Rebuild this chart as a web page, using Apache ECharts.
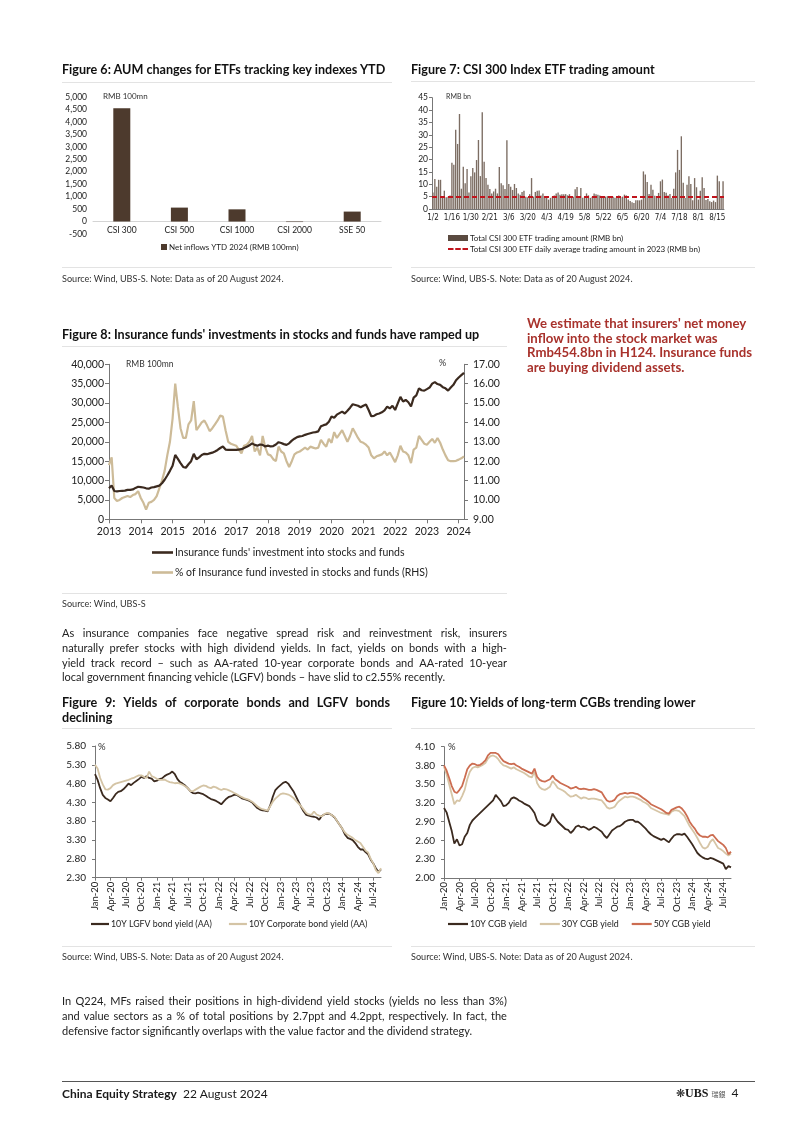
<!DOCTYPE html>
<html><head><meta charset="utf-8">
<script src="https://cdn.jsdelivr.net/npm/echarts@6/dist/echarts.min.js"></script>
<style>
html,body{margin:0;padding:0;background:#fff;}
#page{position:relative;width:802px;height:1134px;overflow:hidden;font-family:Lato,'Open Sans',sans-serif;color:#1a1a1a;}
#chart{position:absolute;left:0;top:0;width:802px;height:1134px;}
.t{position:absolute;white-space:nowrap;line-height:14px;}
.title{font-weight:bold;font-size:12.6px;color:#111;}
.hr{position:absolute;height:1px;background:#e3e3e3;}
.src{font-size:9.1px;color:#333;line-height:12px;}
.body{font-size:11px;color:#222;line-height:14px;}
.red{font-weight:bold;font-size:13.2px;color:#a8322c;line-height:14.6px;}
.j{display:flex;justify-content:space-between;}
</style></head>
<body>
<div id="page">
<div id="chart"></div>

<div class="t title" style="left:62px;top:63px;">Figure 6: AUM changes for ETFs tracking key indexes YTD</div>
<div class="t title" style="left:411px;top:63px;">Figure 7: CSI 300 Index ETF trading amount</div>
<div class="hr" style="left:62px;top:82px;width:330px;"></div>
<div class="hr" style="left:411px;top:81px;width:344px;"></div>
<div class="hr" style="left:62px;top:267px;width:330px;"></div>
<div class="hr" style="left:411px;top:267px;width:344px;"></div>
<div class="t src" style="left:62px;top:273px;">Source: Wind, UBS-S. Note: Data as of 20 August 2024.</div>
<div class="t src" style="left:411px;top:273px;">Source: Wind, UBS-S. Note: Data as of 20 August 2024.</div>

<div class="t title" style="left:62px;top:328px;">Figure 8: Insurance funds' investments in stocks and funds have ramped up</div>
<div class="hr" style="left:62px;top:346px;width:445px;"></div>
<div class="hr" style="left:62px;top:593px;width:445px;"></div>
<div class="t src" style="left:62px;top:598px;">Source: Wind, UBS-S</div>

<div class="t red" style="left:527px;top:316px;">We estimate that insurers' net money</div>
<div class="t red" style="left:527px;top:331px;">inflow into the stock market was</div>
<div class="t red" style="left:527px;top:345px;">Rmb454.8bn in H124. Insurance funds</div>
<div class="t red" style="left:527px;top:360px;">are buying dividend assets.</div>

<div class="t body jl" style="left:62px;top:626px;width:445px;">As insurance companies face negative spread risk and reinvestment risk, insurers</div>
<div class="t body jl" style="left:62px;top:641px;width:445px;">naturally prefer stocks with high dividend yields. In fact, yields on bonds with a high-</div>
<div class="t body jl" style="left:62px;top:656px;width:445px;">yield track record – such as AA-rated 10-year corporate bonds and AA-rated 10-year</div>
<div class="t body" style="left:62px;top:670px;">local government financing vehicle (LGFV) bonds – have slid to c2.55% recently.</div>

<div class="t title jl" style="left:62px;top:696px;width:328px;">Figure 9: Yields of corporate bonds and LGFV bonds</div>
<div class="t title" style="left:62px;top:711px;">declining</div>
<div class="t title" style="left:411px;top:696px;">Figure 10: Yields of long-term CGBs trending lower</div>
<div class="hr" style="left:62px;top:728px;width:330px;"></div>
<div class="hr" style="left:411px;top:728px;width:344px;"></div>
<div class="hr" style="left:62px;top:946px;width:330px;"></div>
<div class="hr" style="left:411px;top:946px;width:344px;"></div>
<div class="t src" style="left:62px;top:951px;">Source: Wind, UBS-S. Note: Data as of 20 August 2024.</div>
<div class="t src" style="left:411px;top:951px;">Source: Wind, UBS-S. Note: Data as of 20 August 2024.</div>

<div class="t body jl" style="left:62px;top:994px;width:445px;">In Q224, MFs raised their positions in high-dividend yield stocks (yields no less than 3%)</div>
<div class="t body jl" style="left:62px;top:1009px;width:445px;">and value sectors as a % of total positions by 2.7ppt and 4.2ppt, respectively. In fact, the</div>
<div class="t body" style="left:62px;top:1024px;">defensive factor significantly overlaps with the value factor and the dividend strategy.</div>

<div class="hr" style="left:62px;top:1081px;width:693px;background:#555;"></div>
<div class="t" style="left:62px;top:1087px;font-size:12px;"><b>China Equity Strategy</b>&nbsp; 22 August 2024</div>
<div class="t" style="left:676px;top:1086px;font-size:12px;"><span style="font-size:11px;">❋</span><span style="font-family:'Liberation Serif',serif;font-weight:bold;">UBS</span> <span style="font-family:'Noto Sans CJK TC';font-size:7px;color:#555;">瑞銀</span>&nbsp; 4</div>
</div>

<script>
// ---------------- Figure 6 ----------------
const fig6Categories = ['CSI 300', 'CSI 500', 'CSI 1000', 'CSI 2000', 'SSE 50'];
const fig6NetInflows = [4550, 560, 490, -20, 400];

// ---------------- Figure 7 ----------------
const fig7Dates = ('1/2 1/3 1/4 1/5 1/8 1/9 1/10 1/11 1/12 1/15 1/16 1/17 1/18 1/19 1/22 1/23 1/24 1/25 1/26 1/29 1/30 1/31 ' +
  '2/1 2/2 2/5 2/6 2/7 2/8 2/19 2/20 2/21 2/22 2/23 2/26 2/27 2/28 2/29 ' +
  '3/1 3/4 3/5 3/6 3/7 3/8 3/11 3/12 3/13 3/14 3/15 3/18 3/19 3/20 3/21 3/22 3/25 3/26 3/27 3/28 3/29 ' +
  '4/1 4/2 4/3 4/8 4/9 4/10 4/11 4/12 4/15 4/16 4/17 4/18 4/19 4/22 4/23 4/24 4/25 4/26 4/29 4/30 ' +
  '5/6 5/7 5/8 5/9 5/10 5/13 5/14 5/15 5/16 5/17 5/20 5/21 5/22 5/23 5/24 5/27 5/28 5/29 5/30 5/31 ' +
  '6/3 6/4 6/5 6/6 6/7 6/11 6/12 6/13 6/14 6/17 6/18 6/19 6/20 6/21 6/24 6/25 6/26 6/27 6/28 ' +
  '7/1 7/2 7/3 7/4 7/5 7/8 7/9 7/10 7/11 7/12 7/15 7/16 7/17 7/18 7/19 7/22 7/23 7/24 7/25 7/26 7/29 7/30 7/31 ' +
  '8/1 8/2 8/5 8/6 8/7 8/8 8/9 8/12 8/13 8/14 8/15 8/16 8/19 8/20').split(' ');
const fig7Amount = [
  6.7, 12.1, 9.0, 11.8, 11.8, 5.0, 7.4, 4.8, 5.0, 5.5,
  18.7, 17.9, 32.0, 26.3, 38.4, 8.2, 17.1, 10.4, 16.2, 6.7,
  13.2, 16.6, 14.8, 19.8, 27.9, 13.3, 39.1, 19.1, 12.5, 9.8,
  8.1, 6.3, 7.1, 8.2, 6.3, 17.0, 10.4, 9.6, 8.1, 27.8,
  10.1, 9.0, 7.7, 10.1, 8.5, 6.3, 5.8, 6.9, 7.4, 5.0,
  4.8, 6.0, 12.5, 5.0, 6.9, 7.4, 7.5, 5.5, 6.3, 4.5,
  4.5, 3.8, 4.5, 5.0, 5.5, 6.3, 6.7, 5.8, 6.0, 6.0,
  6.0, 5.5, 6.0, 4.5, 5.0, 8.0, 8.9, 4.5, 8.5, 4.5,
  5.0, 6.3, 5.5, 4.5, 5.0, 6.3, 6.0, 5.8, 5.5, 5.0,
  4.8, 5.0, 5.2, 5.0, 4.5, 5.0, 4.5, 5.0, 5.5, 4.8,
  5.0, 5.8, 5.5, 3.8, 3.2, 2.7, 2.4, 3.5, 3.5, 3.5,
  3.8, 15.2, 13.9, 10.9, 6.1, 9.8, 7.8, 5.4, 4.4, 6.5,
  11.2, 11.9, 6.9, 6.6, 5.5, 6.1, 4.4, 8.2, 14.8, 23.9,
  15.8, 29.4, 10.6, 4.4, 9.8, 13.2, 10.1, 3.5, 12.5, 8.8,
  3.8, 7.4, 12.8, 8.5, 3.6, 4.0, 3.1, 2.8, 3.4, 2.8,
  13.5, 11.2, 4.4, 11.2
];
const fig7Avg2023 = 5.0;

// ---------------- Figure 8 ----------------
const fig8Years = ['2013','2014','2015','2016','2017','2018','2019','2020','2021','2022','2023','2024'];
const fig8Investment = [
  8000, 8700, 7300, 7200, 7300, 7350, 7400, 7600, 7600, 7700, 8100, 8400,
  8300, 8200, 8000, 7900, 8200, 8300, 8500, 8700, 9300, 10200, 11300, 12500,
  13800, 16600, 15600, 14500, 13500, 13300, 14200, 15000, 16900, 15500, 16000, 16600,
  16900, 16800, 17000, 17200, 17500, 17900, 18400, 18800, 18000, 17900, 17900, 17900,
  17900, 18000, 18100, 18400, 18700, 19100, 19600, 19200, 19000, 19300, 19200, 18800,
  19000, 18800, 18900, 19300, 19900, 19700, 19400, 19200, 19600, 20300, 20800, 21200,
  21400, 21500, 21800, 22000, 22200, 22400, 22500, 22700, 24000, 24300, 24500, 25200,
  26500, 26200, 27000, 27400, 27800, 27300, 28000, 28800, 29700, 29500, 29300, 28900,
  29300, 29600, 28200, 26600, 26700, 27100, 27300, 27600, 28100, 29100, 28600, 29300,
  28200, 29900, 31600, 30400, 30800, 30200, 29100, 31400, 32000, 33800, 33300, 33200,
  33600, 34000, 35000, 35400, 34900, 34700, 34100, 33800, 33200, 34000, 34700, 35900,
  36600, 37200, 37800
];
const fig8Share = [
  11.8, 12.2, 10.1, 9.95, 10.0, 10.1, 10.15, 10.2, 10.15, 10.25, 10.3, 10.45,
  10.1, 9.85, 9.5, 9.85, 9.9, 10.0, 10.2, 10.6, 11.0, 11.5, 12.3, 13.0,
  14.2, 16.0, 14.8, 13.7, 13.2, 13.2, 13.9, 14.1, 15.1, 13.6, 13.8, 14.0,
  14.1, 13.85, 13.55, 13.7, 13.9, 14.1, 14.35, 14.3, 13.6, 13.0, 12.9, 12.85,
  12.8, 12.6, 12.4, 12.8, 12.85, 13.0, 13.3, 12.5, 12.7, 12.3, 13.3, 12.7,
  12.35, 12.3, 12.1, 12.0, 12.75, 12.5, 12.4, 12.0, 11.7, 12.0, 12.35, 12.45,
  12.5, 12.6, 12.7, 12.6, 12.75, 12.7, 12.65, 12.7, 13.1, 12.9, 12.75, 13.15,
  12.95, 13.5, 13.2, 13.4, 13.6, 13.3, 13.0, 13.3, 13.7, 13.45, 13.2, 13.0,
  12.95, 12.85, 12.7, 12.3, 12.15, 12.25, 12.3, 12.35, 12.5, 12.3, 12.45, 12.2,
  11.95, 12.3, 12.8, 12.5, 12.45, 12.3, 11.9, 12.6, 12.7, 13.3, 13.1, 12.9,
  12.85, 13.0, 13.15, 12.95, 13.2, 12.95, 12.6, 12.3, 12.05, 12.0, 12.0, 12.02,
  12.08, 12.15, 12.25
];

// ---------------- Figures 9 & 10 (semi-monthly, Jan-20 .. Aug-24) ----------------
const monthNames = ['Jan','Feb','Mar','Apr','May','Jun','Jul','Aug','Sep','Oct','Nov','Dec'];
const fig9LGFV = [
  5.05,4.9,4.68,4.5,4.42,4.38,4.33,4.42,4.52,4.58,4.6,4.65,
  4.72,4.8,4.76,4.82,4.87,4.92,4.98,4.95,5.0,4.95,4.93,4.86,
  4.88,4.92,4.94,5.0,5.04,5.07,5.12,5.05,4.92,4.84,4.8,4.75,
  4.68,4.6,4.55,4.54,4.56,4.54,4.52,4.48,4.43,4.39,4.37,4.34,
  4.3,4.25,4.33,4.4,4.45,4.47,4.5,4.5,4.46,4.41,4.39,4.37,
  4.34,4.3,4.22,4.15,4.11,4.09,4.08,4.06,4.22,4.45,4.63,4.7,
  4.76,4.82,4.85,4.8,4.7,4.6,4.46,4.32,4.18,4.06,3.97,3.95,
  3.93,3.92,3.9,3.84,3.94,3.98,4.0,4.0,3.96,3.9,3.8,3.7,
  3.6,3.45,3.36,3.33,3.3,3.22,3.12,3.05,3.05,2.98,2.92,2.78,
  2.68,2.55,2.45,2.52
];
const fig9Corp = [
  5.3,5.2,4.95,4.78,4.65,4.64,4.68,4.76,4.8,4.82,4.84,4.86,
  4.88,4.9,4.93,4.95,4.99,5.02,5.02,4.98,4.95,5.12,5.0,4.97,
  4.93,4.9,4.9,4.91,4.87,4.84,4.83,4.81,4.82,4.8,4.77,4.73,
  4.68,4.6,4.6,4.64,4.68,4.72,4.75,4.74,4.7,4.68,4.72,4.7,
  4.66,4.63,4.66,4.65,4.62,4.59,4.55,4.52,4.48,4.44,4.41,4.39,
  4.36,4.32,4.26,4.2,4.15,4.12,4.1,4.08,4.2,4.32,4.4,4.46,
  4.52,4.54,4.53,4.51,4.47,4.42,4.34,4.27,4.2,4.11,4.02,3.98,
  3.97,4.06,3.98,3.95,3.93,3.99,4.02,4.0,3.96,3.91,3.8,3.7,
  3.6,3.5,3.44,3.4,3.36,3.3,3.26,3.22,3.12,3.02,2.97,2.8,
  2.68,2.5,2.42,2.55
];
const fig10Y10 = [
  3.12,3.05,2.9,2.75,2.55,2.62,2.52,2.54,2.66,2.72,2.85,2.92,
  2.96,3.0,3.04,3.08,3.12,3.16,3.2,3.24,3.33,3.28,3.23,3.15,
  3.16,3.2,3.27,3.29,3.27,3.24,3.22,3.19,3.17,3.15,3.1,3.04,
  2.92,2.87,2.85,2.83,2.86,2.9,3.03,2.96,2.9,2.86,2.82,2.78,
  2.77,2.72,2.76,2.82,2.84,2.81,2.82,2.8,2.77,2.79,2.82,2.8,
  2.77,2.74,2.68,2.64,2.7,2.76,2.79,2.82,2.83,2.86,2.9,2.92,
  2.93,2.93,2.9,2.9,2.87,2.83,2.79,2.74,2.7,2.67,2.65,2.63,
  2.61,2.63,2.6,2.57,2.63,2.68,2.7,2.7,2.69,2.71,2.66,2.6,
  2.54,2.47,2.4,2.36,2.33,2.31,2.3,2.32,2.31,2.29,2.27,2.25,
  2.23,2.14,2.19,2.17
];
const fig10Y30 = [
  3.78,3.66,3.5,3.34,3.18,3.24,3.23,3.31,3.41,3.58,3.7,3.76,
  3.78,3.77,3.79,3.81,3.84,3.91,3.95,3.96,3.94,3.9,3.84,3.8,
  3.79,3.77,3.75,3.77,3.74,3.72,3.7,3.68,3.65,3.62,3.61,3.7,
  3.52,3.45,3.42,3.41,3.43,3.46,3.55,3.5,3.44,3.42,3.4,3.37,
  3.33,3.3,3.31,3.33,3.3,3.27,3.29,3.28,3.26,3.27,3.27,3.26,
  3.25,3.24,3.19,3.13,3.11,3.12,3.14,3.2,3.24,3.27,3.3,3.29,
  3.3,3.3,3.29,3.27,3.25,3.22,3.2,3.17,3.12,3.1,3.08,3.06,
  3.04,3.03,3.02,3.01,3.06,3.08,3.08,3.07,3.03,2.99,2.91,2.83,
  2.77,2.71,2.64,2.56,2.49,2.47,2.5,2.58,2.62,2.55,2.48,2.46,
  2.43,2.39,2.36,2.39
];
const fig10Y50 = [
  3.8,3.72,3.6,3.47,3.38,3.36,3.41,3.47,3.6,3.74,3.8,3.83,
  3.82,3.8,3.81,3.84,3.88,3.96,4.0,4.0,4.0,3.98,3.92,3.87,
  3.85,3.83,3.82,3.83,3.8,3.78,3.75,3.73,3.71,3.69,3.67,3.75,
  3.62,3.57,3.55,3.54,3.56,3.58,3.64,3.58,3.55,3.52,3.5,3.48,
  3.46,3.43,3.44,3.46,3.43,3.42,3.43,3.42,3.41,3.41,3.42,3.41,
  3.39,3.37,3.3,3.24,3.22,3.23,3.25,3.31,3.34,3.35,3.36,3.35,
  3.36,3.36,3.35,3.34,3.31,3.28,3.25,3.22,3.18,3.16,3.14,3.12,
  3.1,3.07,3.04,3.03,3.09,3.11,3.13,3.14,3.11,3.06,2.99,2.9,
  2.84,2.79,2.72,2.68,2.66,2.66,2.65,2.68,2.69,2.64,2.59,2.56,
  2.53,2.48,2.38,2.42
];

// category labels built from the year/month lists
const fig8Months = [];
fig8Years.forEach(y => { for (let m = 0; m < 12 && fig8Months.length < fig8Investment.length; m++) fig8Months.push(y + '-' + (m + 1)); });
const halfMonths = [];
for (let y = 2020; y <= 2024; y++) for (let m = 0; m < 12; m++) for (let h = 0; h < 2; h++) {
  if (halfMonths.length < fig9LGFV.length) halfMonths.push(monthNames[m] + '-' + String(y).slice(2));
}

// justify helper for body lines
document.querySelectorAll('.jl').forEach(el => {
  const words = el.textContent.trim().split(/\s+/);
  el.textContent = '';
  el.classList.add('j');
  words.forEach(w => { const s = document.createElement('span'); s.textContent = w; el.appendChild(s); });
});

const FONT = 'Lato, "Open Sans", sans-serif';
const NARROW = '"Liberation Sans Narrow", "Arial Narrow", "DejaVu Sans Condensed", Lato, sans-serif';
const DARK = '#3b2a1f';
const TXT = '#222';
const AX = '#777';
const RED = '#c0141c';
const comma = v => String(v).replace(/\B(?=(\d{3})+(?!\d))/g, ',');

const bar6Name = 'Net inflows YTD 2024 (RMB 100mn)';
const bar7Name = 'Total CSI 300 ETF trading amount (RMB bn)';
const avg7Name = 'Total CSI 300 ETF daily average trading amount in 2023 (RMB bn)';
const s8a = "Insurance funds' investment into stocks and funds";
const s8b = '% of Insurance fund invested in stocks and funds (RHS)';
const dashIcon = 'path://M0 0H5.5V2H0Z M7.25 0H12.75V2H7.25Z M14.5 0H20V2H14.5Z';

const quarterly = i => i % 6 === 0;
const yearly = i => i % 12 === 0;
const legTxt = (size) => ({ fontSize: size, color: TXT, padding: [0, 0, 0, -3] });

const chart = echarts.init(document.getElementById('chart'), null, { renderer: 'canvas' });
chart.setOption({
  animation: false,
  textStyle: { fontFamily: FONT },
  grid: [
    { left: 93, right: 421, top: 97, bottom: 900 },
    { left: 432, right: 78, top: 97.7, bottom: 925 },
    { left: 109, right: 338, top: 364.3, bottom: 614.7 },
    { left: 95, right: 421, top: 746, bottom: 256.3 },
    { left: 444, right: 71, top: 746.7, bottom: 256 }
  ],
  xAxis: [
    { gridIndex: 0, type: 'category', data: fig6Categories, offset: -12.5,
      axisLine: { onZero: false, lineStyle: { color: '#d4d4d4' } }, axisTick: { show: false },
      axisLabel: { fontSize: 8.5, color: TXT, margin: 4 } },
    { gridIndex: 1, type: 'category', data: fig7Dates,
      axisLine: { lineStyle: { color: AX } }, axisTick: { show: false },
      axisLabel: { interval: 9, fontSize: 8, color: TXT, margin: 5, fontFamily: NARROW } },
    { gridIndex: 2, type: 'category', data: fig8Months, boundaryGap: false,
      axisLine: { lineStyle: { color: AX } },
      axisTick: { show: true, interval: yearly, length: 4, lineStyle: { color: AX } },
      axisLabel: { interval: yearly, formatter: v => v.slice(0, 4), fontSize: 10.5, color: TXT, margin: 7 } },
    { gridIndex: 3, type: 'category', data: halfMonths, boundaryGap: false,
      axisLine: { lineStyle: { color: AX } },
      axisTick: { show: true, interval: quarterly, length: 3, lineStyle: { color: AX } },
      axisLabel: { interval: quarterly, rotate: 90, fontSize: 9.5, color: TXT, margin: 4 } },
    { gridIndex: 4, type: 'category', data: halfMonths, boundaryGap: false,
      axisLine: { lineStyle: { color: AX } },
      axisTick: { show: true, interval: quarterly, length: 3, lineStyle: { color: AX } },
      axisLabel: { interval: quarterly, rotate: 90, fontSize: 9.5, color: TXT, margin: 4 } }
  ],
  yAxis: [
    { gridIndex: 0, type: 'value', min: -500, max: 5000, interval: 500,
      axisLine: { show: false }, axisTick: { show: false }, splitLine: { show: false },
      axisLabel: { fontSize: 8.5, color: TXT, margin: 6, formatter: comma } },
    { gridIndex: 1, type: 'value', min: 0, max: 45, interval: 5,
      axisLine: { show: true, lineStyle: { color: AX } }, axisTick: { show: true, length: 3, lineStyle: { color: AX } },
      splitLine: { show: false }, axisLabel: { fontSize: 8.5, color: TXT, margin: 4 } },
    { gridIndex: 2, type: 'value', min: 0, max: 40000, interval: 5000,
      axisLine: { show: true, lineStyle: { color: AX } }, axisTick: { show: true, length: 4, lineStyle: { color: AX } },
      splitLine: { show: false }, axisLabel: { fontSize: 10.5, color: TXT, margin: 5, formatter: comma } },
    { gridIndex: 2, type: 'value', position: 'right', min: 9, max: 17, interval: 1,
      axisLine: { show: true, lineStyle: { color: AX } }, axisTick: { show: true, length: 4, lineStyle: { color: AX } },
      splitLine: { show: false }, axisLabel: { fontSize: 10.5, color: TXT, margin: 9, formatter: v => v.toFixed(2) } },
    { gridIndex: 3, type: 'value', min: 2.3, max: 5.8, interval: 0.5,
      axisLine: { show: true, lineStyle: { color: AX } }, axisTick: { show: true, length: 3, lineStyle: { color: AX } },
      splitLine: { show: false }, axisLabel: { fontSize: 10, color: TXT, margin: 9, formatter: v => v.toFixed(2) } },
    { gridIndex: 4, type: 'value', min: 2.0, max: 4.1, interval: 0.3,
      axisLine: { show: true, lineStyle: { color: AX } }, axisTick: { show: true, length: 3, lineStyle: { color: AX } },
      splitLine: { show: false }, axisLabel: { fontSize: 10, color: TXT, margin: 9, formatter: v => v.toFixed(2) } }
  ],
  legend: [
    { left: 161, top: 243, padding: 0, itemWidth: 6, itemHeight: 6, textStyle: legTxt(8),
      data: [{ name: bar6Name, icon: 'rect' }] },
    { orient: 'vertical', left: 448, top: 234, padding: 0, itemWidth: 20, itemHeight: 6, itemGap: 3,
      textStyle: legTxt(8),
      data: [{ name: bar7Name, icon: 'rect', itemStyle: { color: '#5a4a40' } },
             { name: avg7Name, icon: dashIcon, itemHeight: 2.5 }] },
    { orient: 'vertical', left: 152, top: 547, padding: 0, itemWidth: 21, itemHeight: 2.6, itemGap: 9,
      textStyle: legTxt(10.5), data: [{ name: s8a, icon: 'rect' }, { name: s8b, icon: 'rect' }] },
    { left: 91, top: 919.5, padding: 0, itemWidth: 18, itemHeight: 2.2, itemGap: 17,
      textStyle: legTxt(8.8),
      data: [{ name: '10Y LGFV bond yield (AA)', icon: 'rect' }, { name: '10Y Corporate bond yield (AA)', icon: 'rect' }] },
    { left: 448, top: 919.5, padding: 0, itemWidth: 20, itemHeight: 2.2, itemGap: 13,
      textStyle: legTxt(8.9),
      data: [{ name: '10Y CGB yield', icon: 'rect' }, { name: '30Y CGB yield', icon: 'rect' }, { name: '50Y CGB yield', icon: 'rect' }] }
  ],
  graphic: [
    { type: 'text', left: 103, top: 92, style: { text: 'RMB 100mn', fontSize: 8, fill: '#333', fontFamily: FONT } },
    { type: 'text', left: 446, top: 93, style: { text: 'RMB bn', fontSize: 7, fill: '#333', fontFamily: FONT } },
    { type: 'text', left: 126, top: 360, style: { text: 'RMB 100mn', fontSize: 8.5, fill: '#333', fontFamily: FONT } },
    { type: 'text', left: 439, top: 359, style: { text: '%', fontSize: 9, fill: '#333', fontFamily: FONT } },
    { type: 'text', left: 98, top: 742, style: { text: '%', fontSize: 9.5, fill: '#333', fontFamily: FONT } },
    { type: 'text', left: 448, top: 742, style: { text: '%', fontSize: 9.5, fill: '#333', fontFamily: FONT } }
  ],
  series: [
    { name: bar6Name, type: 'bar', xAxisIndex: 0, yAxisIndex: 0,
      data: fig6NetInflows, barWidth: 17, itemStyle: { color: '#4d3a2d' } },
    { name: bar7Name, type: 'bar', xAxisIndex: 1, yAxisIndex: 1, data: fig7Amount,
      barWidth: '72%', itemStyle: { color: '#7c6d63' },
      markLine: { silent: true, symbol: ['none', 'none'], label: { show: false },
        lineStyle: { color: RED, type: [5, 3], width: 2 }, data: [{ yAxis: fig7Avg2023 }] } },
    { name: avg7Name, type: 'line', xAxisIndex: 1, yAxisIndex: 1, data: [], symbol: 'none',
      itemStyle: { color: RED }, lineStyle: { color: RED, type: [4, 3], width: 2 } },
    { name: s8a, type: 'line', xAxisIndex: 2, yAxisIndex: 2, data: fig8Investment, symbol: 'none', z: 3,
      itemStyle: { color: DARK }, lineStyle: { color: DARK, width: 2.2 } },
    { name: s8b, type: 'line', xAxisIndex: 2, yAxisIndex: 3, data: fig8Share, symbol: 'none', z: 2,
      itemStyle: { color: '#cdbb98' }, lineStyle: { color: '#cdbb98', width: 2.2 } },
    { name: '10Y LGFV bond yield (AA)', type: 'line', xAxisIndex: 3, yAxisIndex: 4, data: fig9LGFV, symbol: 'none', z: 3,
      itemStyle: { color: DARK }, lineStyle: { color: DARK, width: 1.8 } },
    { name: '10Y Corporate bond yield (AA)', type: 'line', xAxisIndex: 3, yAxisIndex: 4, data: fig9Corp, symbol: 'none', z: 4,
      itemStyle: { color: '#d4c4a5' }, lineStyle: { color: '#d4c4a5', width: 1.8 } },
    { name: '10Y CGB yield', type: 'line', xAxisIndex: 4, yAxisIndex: 5, data: fig10Y10, symbol: 'none',
      itemStyle: { color: DARK }, lineStyle: { color: DARK, width: 1.8 } },
    { name: '30Y CGB yield', type: 'line', xAxisIndex: 4, yAxisIndex: 5, data: fig10Y30, symbol: 'none',
      itemStyle: { color: '#d6c5a6' }, lineStyle: { color: '#d6c5a6', width: 1.8 } },
    { name: '50Y CGB yield', type: 'line', xAxisIndex: 4, yAxisIndex: 5, data: fig10Y50, symbol: 'none',
      itemStyle: { color: '#cc6d51' }, lineStyle: { color: '#cc6d51', width: 1.8 } }
  ]
});
</script>
</body></html>
